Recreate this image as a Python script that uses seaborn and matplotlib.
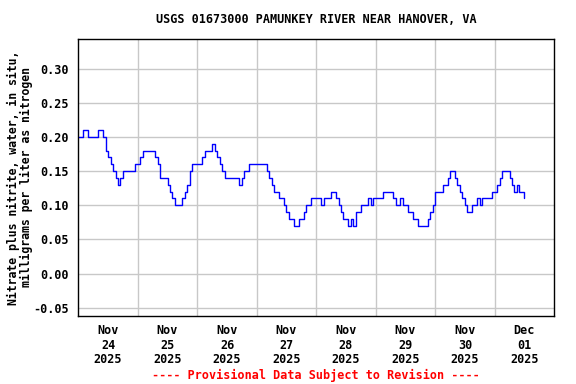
import numpy as np
import pandas as pd
import seaborn as sns
import matplotlib.pyplot as plt
import matplotlib.dates as mdates

# hourly nitrate+nitrite readings (mg/L as N), starting Nov 24 2025 00:00
day1 = [0.20, 0.20, 0.21, 0.21, 0.20, 0.20, 0.20, 0.20, 0.21, 0.21, 0.20, 0.18,
        0.17, 0.16, 0.15, 0.14, 0.13, 0.14, 0.15, 0.15, 0.15, 0.15, 0.15, 0.16]
day2 = [0.16, 0.17, 0.18, 0.18, 0.18, 0.18, 0.18, 0.17, 0.16, 0.14, 0.14, 0.14,
        0.13, 0.12, 0.11, 0.10, 0.10, 0.10, 0.11, 0.12, 0.13, 0.15, 0.16, 0.16]
day3 = [0.16, 0.16, 0.17, 0.18, 0.18, 0.18, 0.19, 0.18, 0.17, 0.16, 0.15, 0.14,
        0.14, 0.14, 0.14, 0.14, 0.14, 0.13, 0.14, 0.15, 0.15, 0.16, 0.16, 0.16]
day4 = [0.16, 0.16, 0.16, 0.16, 0.15, 0.14, 0.13, 0.12, 0.12, 0.11, 0.11, 0.10,
        0.09, 0.08, 0.08, 0.07, 0.07, 0.08, 0.08, 0.09, 0.10, 0.10, 0.11, 0.11]
day5 = [0.11, 0.11, 0.10, 0.11, 0.11, 0.11, 0.12, 0.12, 0.11, 0.10, 0.09, 0.08,
        0.08, 0.07, 0.08, 0.07, 0.09, 0.09, 0.10, 0.10, 0.10, 0.11, 0.10, 0.11]
day6 = [0.11, 0.11, 0.11, 0.12, 0.12, 0.12, 0.12, 0.11, 0.10, 0.10, 0.11, 0.10,
        0.10, 0.09, 0.09, 0.08, 0.08, 0.07, 0.07, 0.07, 0.07, 0.08, 0.09, 0.10]
day7 = [0.12, 0.12, 0.12, 0.13, 0.13, 0.14, 0.15, 0.15, 0.14, 0.13, 0.12, 0.11,
        0.10, 0.09, 0.09, 0.10, 0.10, 0.11, 0.10, 0.11, 0.11, 0.11, 0.11, 0.12]
day8 = [0.12, 0.13, 0.14, 0.15, 0.15, 0.15, 0.14, 0.13, 0.12, 0.13, 0.12, 0.12, 0.11]

values = day1 + day2 + day3 + day4 + day5 + day6 + day7 + day8
times = pd.date_range('2025-11-24 00:00', periods=len(values), freq='h')
df = pd.DataFrame({'time': times, 'value': values})

y_ticks = [-0.05, 0.00, 0.05, 0.10, 0.15, 0.20, 0.25, 0.30]
day_labels = ['Nov\n24\n2025', 'Nov\n25\n2025', 'Nov\n26\n2025', 'Nov\n27\n2025',
              'Nov\n28\n2025', 'Nov\n29\n2025', 'Nov\n30\n2025', 'Dec\n01\n2025']

sns.set_style('white')
plt.rcParams['font.family'] = ['DejaVu Sans Mono']
plt.rcParams['font.weight'] = 'bold'
plt.rcParams['text.color'] = 'black'

fig = plt.figure(figsize=(5.76, 3.84), dpi=100)
ax = fig.add_axes([0.136, 0.177, 0.826, 0.721])

sns.lineplot(data=df, x='time', y='value', ax=ax, color='#0000ff',
             linewidth=1.0, drawstyle='steps-post')

start = pd.Timestamp('2025-11-24')
ax.set_xlim(start, start + pd.Timedelta(days=8))
ax.set_ylim(-0.062, 0.343)

noon = [start + pd.Timedelta(days=i, hours=12) for i in range(8)]
midnight = [start + pd.Timedelta(days=i) for i in range(1, 8)]
ax.set_xticks(noon)
ax.set_xticklabels(day_labels, fontsize=8.5, fontweight='bold', linespacing=1.15)
ax.set_xticks(midnight, minor=True)
ax.tick_params(axis='x', which='both', length=0, pad=6, labelcolor='black')
ax.grid(True, axis='x', which='minor', color='#c8c8c8', linewidth=1)

ax.set_yticks(y_ticks)
ax.set_yticklabels([f'{v:.2f}' for v in y_ticks], fontsize=8.5, fontweight='bold')
ax.tick_params(axis='y', direction='in', length=3, pad=7, color='#c8c8c8',
               labelcolor='black')
ax.grid(True, axis='y', color='#c8c8c8', linewidth=1)

for s in ax.spines.values():
    s.set_color('black')
    s.set_linewidth(1)

ax.set_xlabel('')
ax.set_ylabel('')
fig.text(0.034, 0.538, 'Nitrate plus nitrite, water, in situ,\nmilligrams per liter as nitrogen',
         rotation=90, ha='center', va='center', fontsize=8.3, fontweight='bold',
         linespacing=1.0, multialignment='center', color='black')

fig.text(0.549, 0.95, 'USGS 01673000 PAMUNKEY RIVER NEAR HANOVER, VA',
         ha='center', va='center', fontsize=8.5, fontweight='bold', color='black')
fig.text(0.549, 0.023, '---- Provisional Data Subject to Revision ----',
         ha='center', va='center', fontsize=8.5, fontweight='bold', color='red')

fig.savefig('out.png', dpi=100)
